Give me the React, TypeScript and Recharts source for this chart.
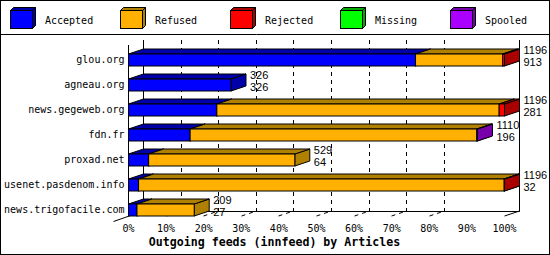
import { BarChart, Bar, XAxis, YAxis, CartesianGrid, LabelList } from "recharts";

// outgoing innfeed counts per peer (articles)
const hosts = [
  "glou.org",
  "agneau.org",
  "news.gegeweb.org",
  "fdn.fr",
  "proxad.net",
  "usenet.pasdenom.info",
  "news.trigofacile.com",
];
const totals = [1196, 326, 1196, 1110, 529, 1196, 209];
const accepted = [913, 326, 281, 196, 64, 32, 27];
const refused = [277, 0, 898, 912, 465, 1163, 182];
const rejected = [6, 0, 17, 0, 0, 1, 0];
const missing = [0, 0, 0, 0, 0, 0, 0];
const spooled = [0, 0, 0, 2, 0, 0, 0];
const pctTicks = [0, 10, 20, 30, 40, 50, 60, 70, 80, 90, 100];

const series = [
  { key: "accepted", name: "Accepted", front: "#0000ff", dark: "#0000aa" },
  { key: "refused", name: "Refused", front: "#ffb000", dark: "#b08000" },
  { key: "rejected", name: "Rejected", front: "#ff0000", dark: "#aa0000" },
  { key: "missing", name: "Missing", front: "#00ff00", dark: "#00aa00" },
  { key: "spooled", name: "Spooled", front: "#aa00ff", dark: "#7700aa" },
];

// bars are drawn as % of the biggest peer
const peak = Math.max(...totals);
const pct = (v: number) => (v / peak) * 100;
const rows = hosts.map((name, i) => ({
  name,
  accepted: pct(accepted[i]),
  refused: pct(refused[i]),
  rejected: pct(rejected[i]),
  missing: pct(missing[i]),
  spooled: pct(spooled[i]),
}));

const W = 550;
const H = 255;
const PLOT_LEFT = 128.5;
const PLOT_RIGHT = 504.5;
const DX = 15;
const DY = 5;
const MONO = "'DejaVu Sans Mono', monospace";

function box3d(key: string, front: string, dark: string) {
  return (p: any) => {
    const { x, y, width: w, height: h, payload } = p;
    if (!payload || !(payload[key] > 0)) return <g />;
    const top = `${x},${y} ${x + w},${y} ${x + w + DX},${y - DY} ${x + DX},${y - DY}`;
    const side = `${x + w},${y} ${x + w + DX},${y - DY} ${x + w + DX},${y + h - DY} ${x + w},${y + h}`;
    return (
      <g>
        <polygon points={side} fill={dark} stroke="#000" />
        <polygon points={top} fill={dark} stroke="#000" />
        <rect x={x} y={y} width={w} height={h} fill={front} stroke="#000" />
      </g>
    );
  };
}

const renderTotals = (p: any) => {
  const vb = p.viewBox ?? p;
  const i = p.index;
  if (i == null) return null;
  const end = vb.x + (vb.width * totals[i]) / accepted[i];
  const tx = end + DX + 4;
  return (
    <g fontFamily="'Liberation Sans', sans-serif" fontSize={11} fill="#000">
      <text x={tx} y={vb.y}>{totals[i]}</text>
      <text x={tx} y={vb.y + 11.5}>{accepted[i]}</text>
    </g>
  );
};

const gridLine = (p: any) => {
  const x = Math.round(p.x1 - 0.5) + 0.5;
  if (x < PLOT_LEFT + 1 || x > PLOT_RIGHT - 1) return <g key={p.key} />;
  return (
    <g key={p.key}>
      <line x1={x + DX} y1={40} x2={x + DX} y2={211.5} stroke="#000" strokeDasharray="4 4" />
      <line x1={x} y1={216} x2={x + DX} y2={211} stroke="#000" strokeDasharray="4 4" />
    </g>
  );
};

function Backdrop() {
  return (
    <svg width={W} height={H} style={{ position: "absolute", left: 0, top: 0 }}>
      <rect x={0.5} y={0.5} width={W - 1} height={H - 1} fill="#fff" stroke="#000" />
      <line x1={0} y1={34.5} x2={W} y2={34.5} stroke="#000" />
      {series.map((s, i) => {
        const x0 = 10 + 110 * i;
        return (
          <g key={s.key}>
            <polygon
              points={`${x0 + 22.5},10.5 ${x0 + 25.5},7.5 ${x0 + 25.5},25.5 ${x0 + 22.5},28.5`}
              fill={s.dark}
              stroke="#000"
            />
            <polygon
              points={`${x0 + 0.5},10.5 ${x0 + 22.5},10.5 ${x0 + 25.5},7.5 ${x0 + 3.5},7.5`}
              fill={s.dark}
              stroke="#000"
            />
            <rect x={x0 + 0.5} y={10.5} width={22} height={18} fill={s.front} stroke="#000" />
            <text x={x0 + 35} y={24} fontFamily={MONO} fontSize={10} fill="#000">
              {s.name}
            </text>
          </g>
        );
      })}
      {/* walls and floor */}
      <line x1={PLOT_LEFT} y1={45} x2={PLOT_LEFT} y2={216} stroke="#000" />
      <line x1={PLOT_LEFT + DX} y1={40} x2={PLOT_LEFT + DX} y2={211.5} stroke="#000" />
      <line x1={PLOT_RIGHT + DX} y1={40} x2={PLOT_RIGHT + DX} y2={211.5} stroke="#000" />
      <line x1={PLOT_LEFT + DX} y1={211.5} x2={PLOT_RIGHT + DX} y2={211.5} stroke="#000" />
      <line x1={PLOT_LEFT - DX} y1={221.5} x2={PLOT_LEFT + DX} y2={211} stroke="#000" />
      <line x1={PLOT_RIGHT} y1={216} x2={PLOT_RIGHT + DX} y2={211} stroke="#000" />
      <text
        x={274.5}
        y={246}
        textAnchor="middle"
        fontFamily={MONO}
        fontWeight="bold"
        fontSize={11.6}
        fill="#000"
      >
        Outgoing feeds (innfeed) by Articles
      </text>
    </svg>
  );
}

export default function App() {
  return (
    <div style={{ position: "relative", width: W, height: H }}>
      <style>{"body{margin:0}"}</style>
      <Backdrop />
      <div style={{ position: "absolute", left: 0, top: 0 }}>
        <BarChart
          width={W}
          height={H}
          data={rows}
          layout="vertical"
          barSize={12}
          margin={{ top: 47, right: W - PLOT_RIGHT, bottom: 0, left: 0 }}
        >
          <CartesianGrid horizontal={false} vertical={gridLine} />
          <XAxis
            type="number"
            domain={[0, 100]}
            ticks={pctTicks}
            tickFormatter={(v) => `${v}%`}
            axisLine={false}
            tickLine={false}
            tickSize={0}
            tickMargin={3}
            height={33}
            tick={{ fill: "#000", fontSize: 10, fontFamily: MONO }}
          />
          <YAxis
            type="category"
            dataKey="name"
            width={PLOT_LEFT}
            interval={0}
            axisLine={false}
            tickLine={false}
            tickSize={0}
            tickMargin={4}
            tick={{ fill: "#000", fontSize: 10, fontFamily: MONO }}
          />
          {series.map((s) => (
            <Bar
              key={s.key}
              dataKey={s.key}
              name={s.name}
              stackId="feeds"
              fill={s.front}
              isAnimationActive={false}
              shape={box3d(s.key, s.front, s.dark)}
            >
              {s.key === "accepted" && <LabelList content={renderTotals} />}
            </Bar>
          ))}
        </BarChart>
      </div>
    </div>
  );
}
